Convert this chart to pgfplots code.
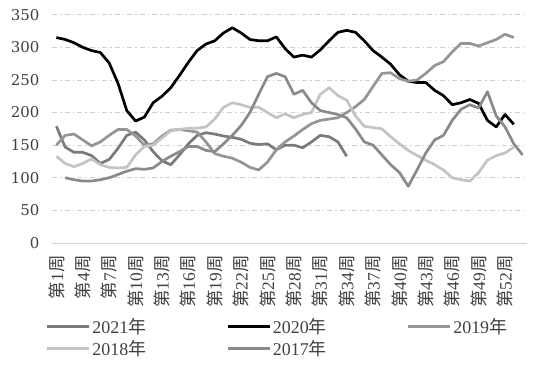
\documentclass[border=0pt]{standalone}
\usepackage{fontspec}
\setmainfont{Liberation Serif}
\newfontfamily\cjk{Noto Sans CJK SC}
\newfontfamily\dvs{DejaVu Serif}
\usepackage{pgfplots}
\pgfplotsset{compat=1.18}
\definecolor{cA}{HTML}{7A7A7A}
\definecolor{cB}{HTML}{000000}
\definecolor{cC}{HTML}{959595}
\definecolor{cD}{HTML}{C4C4C4}
\definecolor{cE}{HTML}{8A8A8A}
\definecolor{txt}{HTML}{404040}
\definecolor{gridc}{HTML}{D0D0D0}
\newcommand{\wk}[1]{{\cjk 第}#1{\cjk 周}}
\newcommand{\yr}[1]{#1{\cjk 年}}
\begin{document}
\begin{tikzpicture}
\useasboundingbox (-52bp,-124bp) rectangle (482bp,243bp);
\begin{axis}[
  at={(0,0)}, anchor=south west,
  scale only axis, width=475bp, height=228.3bp,
  xmin=0.5, xmax=54.5, ymin=0, ymax=350,
  axis x line*=bottom, axis y line*=left,
  x axis line style={draw=gridc, line width=0.8bp, -},
  y axis line style={draw=none},
  major tick length=0pt,
  ytick={0,50,...,350},
  ymajorgrids,
  major grid style={draw=gridc, line width=0.7bp, dash pattern=on 5bp off 3bp on 1.5bp off 3bp},
  xtick={1,4,...,52},
  xticklabels={\wk{1},\wk{4},\wk{7},\wk{10},\wk{13},\wk{16},\wk{19},\wk{22},\wk{25},\wk{28},\wk{31},\wk{34},\wk{37},\wk{40},\wk{43},\wk{46},\wk{49},\wk{52}},
  xticklabel style={rotate=90, anchor=east, font=\fontsize{17.5}{17.5}\selectfont, text=txt},
  xticklabel shift=9bp,
  yticklabel style={font=\dvs\fontsize{15}{15}\selectfont, text=txt},
  yticklabel shift=9bp,
  /pgf/number format/assume math mode=true,
  legend columns=3,
  legend cell align=left,
  legend style={draw=none, fill=none, at={(axis description cs:-0.02,-0.31)}, anchor=north west,
    font=\fontsize{18}{19}\selectfont, text=txt,
    /tikz/every even column/.append style={column sep=78bp}, row sep=1.5bp},
  legend image code/.code={\draw[#1] (0bp,0bp) -- (42bp,0bp);},
  every axis plot/.append style={line width=2.7bp, line join=round, no markers},
]
\addplot[cA] coordinates {(1,179)(2,147)(3,139)(4,139)(5,134)(6,122)(7,128)(8,145)(9,165)(10,170)(11,158)(12,140)(13,126)(14,120)(15,135)(16,152)(17,165)(18,169)(19,167)(20,164)(21,162)(22,159)(23,153)(24,151)(25,152)(26,143)(27,150)(28,150)(29,146)(30,155)(31,165)(32,163)(33,155)(34,133)};
\addlegendentry{\yr{2021}}
\addplot[cB] coordinates {(1,315)(2,312)(3,307)(4,300)(5,295)(6,292)(7,276)(8,245)(9,203)(10,187)(11,193)(12,215)(13,225)(14,238)(15,257)(16,277)(17,295)(18,305)(19,310)(20,322)(21,330)(22,322)(23,312)(24,310)(25,310)(26,316)(27,298)(28,285)(29,288)(30,285)(31,296)(32,310)(33,323)(34,326)(35,323)(36,310)(37,295)(38,285)(39,274)(40,258)(41,248)(42,246)(43,246)(44,234)(45,226)(46,212)(47,215)(48,220)(49,214)(50,188)(51,178)(52,197)(53,182)};
\addlegendentry{\yr{2020}}
\addplot[cC] coordinates {(1,150)(2,165)(3,167)(4,158)(5,149)(6,155)(7,165)(8,174)(9,174)(10,164)(11,150)(12,152)(13,164)(14,173)(15,174)(16,172)(17,170)(18,155)(19,137)(20,133)(21,130)(22,124)(23,116)(24,112)(25,124)(26,143)(27,155)(28,164)(29,174)(30,183)(31,188)(32,190)(33,192)(34,200)(35,209)(36,220)(37,240)(38,260)(39,261)(40,252)(41,248)(42,250)(43,260)(44,272)(45,278)(46,293)(47,306)(48,306)(49,302)(50,307)(51,312)(52,320)(53,315)};
\addlegendentry{\yr{2019}}
\addplot[cD] coordinates {(1,133)(2,122)(3,117)(4,122)(5,129)(6,120)(7,116)(8,115)(9,116)(10,135)(11,148)(12,150)(13,161)(14,172)(15,174)(16,176)(17,176)(18,178)(19,190)(20,208)(21,215)(22,212)(23,208)(24,208)(25,200)(26,192)(27,198)(28,192)(29,197)(30,200)(31,228)(32,238)(33,226)(34,219)(35,195)(36,179)(37,177)(38,175)(39,163)(40,152)(41,142)(42,134)(43,127)(44,120)(45,112)(46,100)(47,97)(48,95)(49,108)(50,127)(51,134)(52,138)(53,147)};
\addlegendentry{\yr{2018}}
\addplot[cE] coordinates {(2,100)(3,97)(4,95)(5,95)(6,97)(7,100)(8,105)(9,110)(10,114)(11,113)(12,115)(13,125)(14,133)(15,140)(16,148)(17,148)(18,142)(19,140)(20,152)(21,165)(22,180)(23,200)(24,228)(25,255)(26,260)(27,255)(28,228)(29,234)(30,215)(31,203)(32,200)(33,197)(34,192)(35,175)(36,155)(37,150)(38,135)(39,120)(40,108)(41,87)(42,112)(43,138)(44,158)(45,165)(46,188)(47,205)(48,212)(49,207)(50,232)(51,195)(52,178)(53,152)(54,135)};
\addlegendentry{\yr{2017}}
\end{axis}
\end{tikzpicture}
\end{document}
